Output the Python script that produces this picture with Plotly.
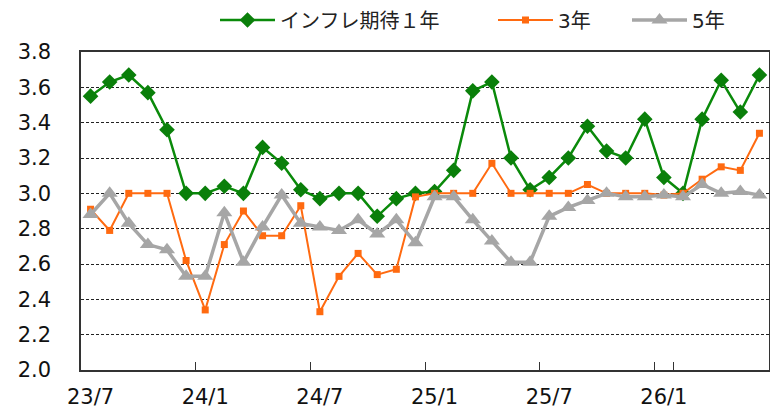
import plotly.graph_objects as go

months = []
y, m = 23, 7
for _ in range(36):
    months.append(f"{y}/{m}")
    m += 1
    if m > 12:
        m = 1
        y += 1

infl_1y = [3.55, 3.63, 3.67, 3.57, 3.36, 3.00, 3.00, 3.04, 3.00, 3.26,
           3.17, 3.02, 2.97, 3.00, 3.00, 2.87, 2.97, 3.00, 3.01, 3.13,
           3.58, 3.63, 3.20, 3.02, 3.09, 3.20, 3.38, 3.24, 3.20, 3.42,
           3.09, 3.00, 3.42, 3.64, 3.46, 3.67]
infl_3y = [2.91, 2.79, 3.00, 3.00, 3.00, 2.62, 2.34, 2.71, 2.90, 2.76,
           2.76, 2.93, 2.33, 2.53, 2.66, 2.54, 2.57, 2.98, 3.00, 3.00,
           3.00, 3.17, 3.00, 3.00, 3.00, 3.00, 3.05, 3.00, 3.00, 3.00,
           2.99, 3.00, 3.08, 3.15, 3.13, 3.34]
infl_5y = [2.88, 3.00, 2.83, 2.71, 2.68, 2.53, 2.53, 2.89, 2.61, 2.81,
           2.99, 2.83, 2.81, 2.79, 2.85, 2.77, 2.85, 2.72, 2.98, 2.98,
           2.85, 2.73, 2.61, 2.61, 2.87, 2.92, 2.96, 3.00, 2.98, 2.98,
           2.99, 2.98, 3.05, 3.00, 3.01, 2.99]

tick_labels = ["23/7", "24/1", "24/7", "25/1", "25/7", "26/1"]

fig = go.Figure()
fig.add_trace(go.Scatter(x=months, y=infl_1y, name="インフレ期待１年", mode="lines+markers",
                         line=dict(color="#0A8A0A", width=2.5), legendwidth=208,
                         marker=dict(symbol="diamond", size=12, color="#0A7F0A")))
fig.add_trace(go.Scatter(x=months, y=infl_3y, name="3年", mode="lines+markers",
                         line=dict(color="#FF6A10", width=2), legendwidth=64,
                         marker=dict(symbol="square", size=7, color="#FF6A10")))
fig.add_trace(go.Scatter(x=months, y=infl_5y, name="5年", mode="lines+markers",
                         line=dict(color="#A6A6A6", width=3.5),
                         marker=dict(symbol="triangle-up", size=14, color="#A6A6A6")))

FONT = "DejaVu Sans, Noto Sans CJK JP"
fig.update_layout(
    width=770, height=409,
    margin=dict(l=81, r=1, t=52, b=39, autoexpand=False),
    plot_bgcolor="white", paper_bgcolor="white",
    font=dict(family=FONT, color="#111"),
    showlegend=True,
    legend=dict(orientation="h", x=(215 - 81) / 688, xanchor="left",
                y=1 + (52 - 20) / 318, yanchor="middle", itemwidth=55,
                font=dict(size=20, family=FONT, color="#222"),
                bgcolor="rgba(0,0,0,0)"),
)
fig.update_xaxes(type="category", categoryorder="array", categoryarray=months,
                 tickmode="array", tickvals=tick_labels, ticktext=tick_labels,
                 tickson="boundaries", ticks="inside", ticklen=8, tickcolor="#333",
                 tickangle=0, automargin=False,
                 showgrid=False, showline=True, linecolor="#333", linewidth=1.5,
                 mirror=True, tickfont=dict(size=21), ticklabelstandoff=7,
                 range=[-0.5, 35.5])
fig.update_yaxes(range=[2.0, 3.8], dtick=0.2, tickformat=".1f", automargin=False,
                 showgrid=True, gridcolor="#222", gridwidth=1, griddash="3px,2px",
                 showline=True, linecolor="#333", linewidth=1.5, mirror=True,
                 ticks="", tickfont=dict(size=21), ticklabelstandoff=24,
                 zeroline=False)

fig.write_html("out.html", config={"displayModeBar": False},
               post_script="document.body.style.margin='0';")
